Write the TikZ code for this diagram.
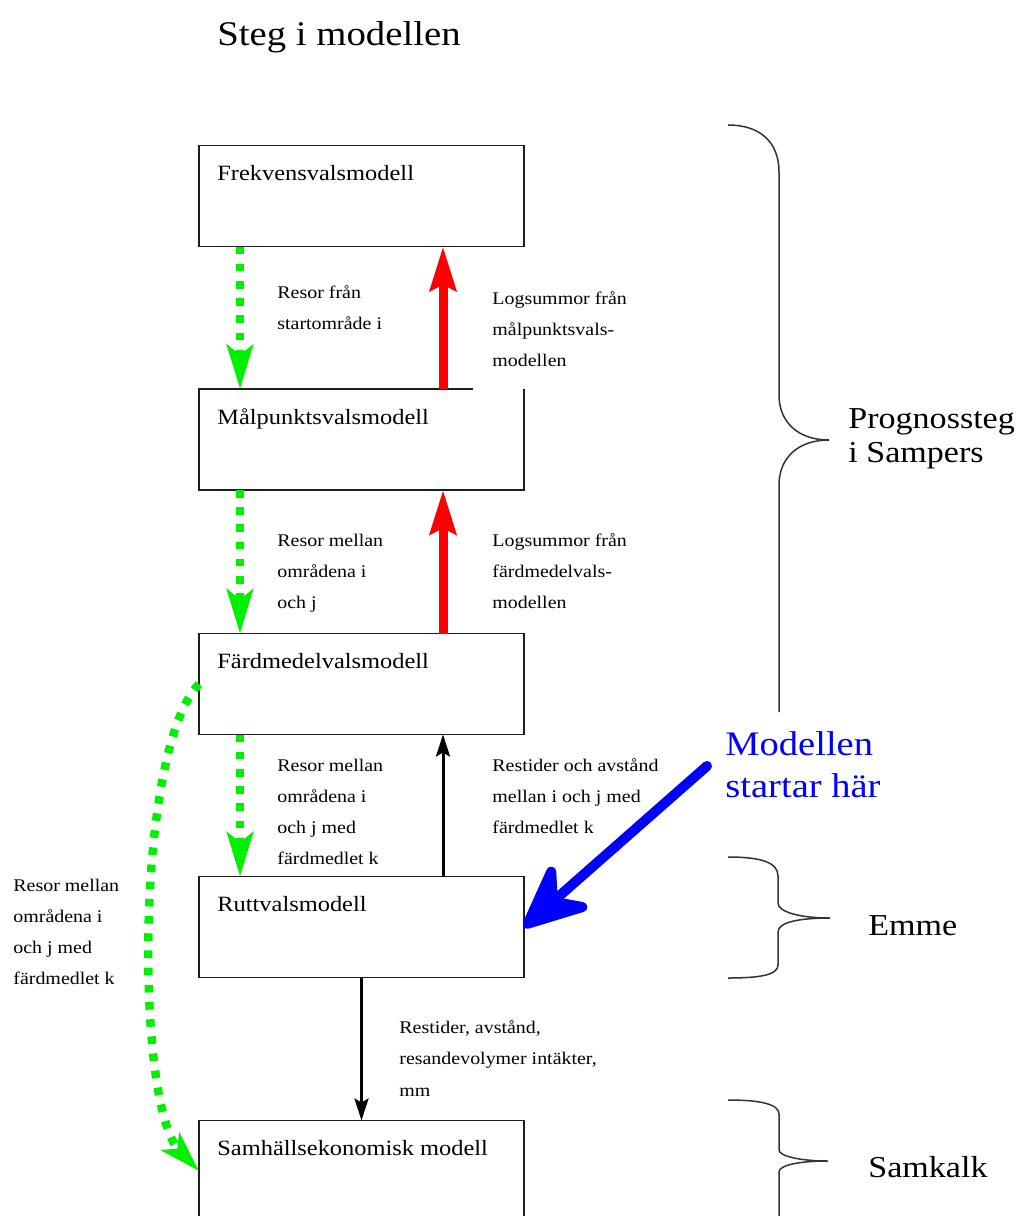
\documentclass[tikz,border=0pt]{standalone}
\usepackage{fontspec}
\setmainfont[FakeStretch=1.12]{Liberation Serif}
\usetikzlibrary{arrows.meta,calc}
\definecolor{brgreen}{RGB}{0,240,0}
\definecolor{brred}{RGB}{255,0,0}
\definecolor{brblue}{RGB}{0,0,255}
\definecolor{edge}{RGB}{30,30,30}
\begin{document}
\begin{tikzpicture}[x=0.5pt,y=-0.5pt,
  box/.style={draw=edge,line width=0.9pt,minimum width=162.5pt,minimum height=50.5pt,inner sep=0pt,outer sep=0pt},
  boxtext/.style={anchor=base west,inner sep=0pt,font=\fontsize{10.9}{13}\selectfont},
  lbl/.style={anchor=base west,inner sep=0pt,align=left,font=\fontsize{8.9}{15.5}\selectfont},
  bracelbl/.style={anchor=base west,inner sep=0pt,align=left,font=\fontsize{15.2}{17}\selectfont},
  flowdown/.style={brgreen,line width=4.2pt,dash pattern=on 3.8pt off 4.8pt,-{Stealth[length=22pt,width=13pt,inset=5pt]}},
  logsum/.style={brred,line width=4.5pt,-{Stealth[length=22pt,width=13pt,inset=3pt]}},
  blackflow/.style={black,line width=1.5pt,-{Stealth[length=11pt,width=7pt,inset=2pt]}},
  startarrow/.style={brblue,line width=5pt,line cap=round,-{Stealth[length=40pt,width=36pt,inset=14pt,round]}},
  bracestyle/.style={draw=black!80,line width=0.75pt},
]
\useasboundingbox (0,0) rectangle (1020,1216);

% title
\node[anchor=base west,inner sep=0pt,font=\fontsize{17.3}{20}\selectfont] (title) at (217,45) {Steg i modellen};

% boxes
\node[box] (frek) at (361.5,196) {};
\node[box,draw=none] (malp) at (361.5,439.5) {};
\draw[edge,line width=0.9pt] ($(malp.north east)+(-51,0)$) -- (malp.north west) -- (malp.south west) -- (malp.south east) -- (malp.north east);
\node[box] (fard) at (361.5,684) {};
\node[box] (rutt) at (361.5,927) {};
\node[box] (samh) at (361.5,1171) {};

\node[boxtext] (frekt) at ($(frek.north west)+(18,35)$) {Frekvensvalsmodell};
\node[boxtext] (malpt) at ($(malp.north west)+(18,35)$) {Målpunktsvalsmodell};
\node[boxtext] (fardt) at ($(fard.north west)+(18,35)$) {Färdmedelvalsmodell};
\node[boxtext] (ruttt) at ($(rutt.north west)+(18,35)$) {Ruttvalsmodell};
\node[boxtext] (samht) at ($(samh.north west)+(18,35)$) {Samhällsekonomisk modell};

% arrows
\draw[flowdown] ($(frek.south west)+(41,0)$) -- ($(malp.north west)+(41,0)$);
\draw[flowdown] ($(malp.south west)+(41,0)$) -- ($(fard.north west)+(41,0)$);
\draw[flowdown] ($(fard.south west)+(41,0)$) -- ($(rutt.north west)+(41,0)$);
\draw[logsum] ($(malp.north west)+(244,0)$) -- ($(frek.south west)+(244,0)$);
\draw[logsum] ($(fard.north west)+(244,0)$) -- ($(malp.south west)+(244,0)$);
\draw[blackflow] ($(rutt.north west)+(244,0)$) -- ($(fard.south west)+(244,0)$);
\draw[blackflow] (rutt.south) -- (samh.north);
\draw[flowdown,-{Stealth[length=20.5pt,width=12.5pt,inset=5pt]}] (fard.west) .. controls (135,750) and (135,1105) .. (samh.west);
\coordinate (bstart) at (707,766);
\draw[startarrow] (bstart) -- (rutt.east);

% labels (anchored at the baseline of the last line)
\node[lbl] (l1) at (277,329) {Resor från\\startområde i};
\node[lbl] (l2) at (492,366) {Logsummor från\\målpunktsvals-\\modellen};
\node[lbl] (l3) at (277,608) {Resor mellan\\områdena i\\och j};
\node[lbl] (l4) at (492,608) {Logsummor från\\färdmedelvals-\\modellen};
\node[lbl] (l5) at (277,864) {Resor mellan\\områdena i\\och j med\\färdmedlet k};
\node[lbl] (l6) at (492,833) {Restider och avstånd\\mellan i och j med\\färdmedlet k};
\node[lbl] (l7) at (13,984) {Resor mellan\\områdena i\\och j med\\färdmedlet k};
\node[lbl,font=\fontsize{8.9}{15.75}\selectfont] (l8) at (399,1096) {Restider, avstånd,\\resandevolymer intäkter,\\mm};

% braces
\draw[bracestyle] (728,125) .. controls (760,125) and (779,142) .. (779,172)
  -- (779,395) .. controls (779,422) and (798,440) .. (829,440)
  .. controls (798,440) and (779,458) .. (779,485) -- (779,712);
\draw[bracestyle] (728,857) .. controls (760,857) and (778,862) .. (778,876)
  -- (778,903) .. controls (778,912) and (800,918) .. (830,918)
  .. controls (800,918) and (778,922) .. (778,932) -- (778,965)
  .. controls (778,975) and (760,978) .. (728,978);
\draw[bracestyle] (728,1100) .. controls (760,1100) and (779,1104) .. (779,1114)
  -- (779,1150) .. controls (779,1156) and (800,1161) .. (828,1161)
  .. controls (800,1161) and (779,1165) .. (779,1172) -- (779,1230);

\node[bracelbl] (prog) at (848,462) {Prognossteg\\i Sampers};
\node[bracelbl] (emme) at (868,935) {Emme};
\node[bracelbl] (samk) at (868,1177) {Samkalk};
\node[anchor=base west,inner sep=0pt,align=left,text=brblue,font=\fontsize{17.2}{21}\selectfont] (startlbl) at (725,797) {Modellen\\startar här};
\end{tikzpicture}
\end{document}
